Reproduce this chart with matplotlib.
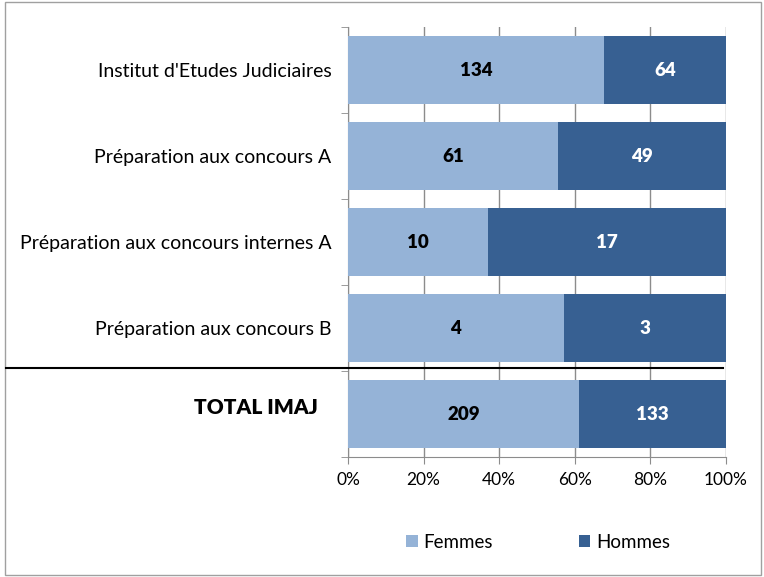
import numpy as np
import matplotlib.pyplot as plt
from matplotlib.lines import Line2D

plt.rcParams['font.family'] = ['Lato', 'DejaVu Sans']

categories = ["Institut d'Etudes Judiciaires", "Préparation aux concours A",
              "Préparation aux concours internes A", "Préparation aux concours B",
              "TOTAL IMAJ"]
femmes = np.array([134, 61, 10, 4, 209])
hommes = np.array([64, 49, 17, 3, 133])
xticks = [0, 20, 40, 60, 80, 100]

c_f = '#95B3D7'
c_h = '#376092'

total = femmes + hommes
pf = femmes / total * 100
ph = hommes / total * 100

fig = plt.figure(figsize=(7.64, 5.77), dpi=100)
ax = fig.add_axes([348/764, 1 - 457/577, (726-348)/764, (457-27)/577])

y = np.arange(len(categories))
ax.barh(y, pf, height=0.78, color=c_f, label='Femmes', zorder=3)
ax.barh(y, ph, left=pf, height=0.78, color=c_h, label='Hommes', zorder=3)

for i in range(len(categories)):
    ax.text(pf[i] / 2, y[i], str(femmes[i]), ha='center', va='center',
            fontsize=13.5, fontweight='heavy', color='black', zorder=4)
    ax.text(pf[i] + ph[i] / 2, y[i], str(hommes[i]), ha='center', va='center',
            fontsize=13.5, fontweight='heavy', color='white', zorder=4)

ax.set_xlim(0, 100)
ax.set_ylim(len(categories) - 0.5, -0.5)
ax.set_xticks(xticks)
ax.set_xticklabels([f'{v}%' for v in xticks], fontsize=12.5)
ax.xaxis.grid(True, color='#8c8c8c', linewidth=1, zorder=0)

# category labels
ax.set_yticks(y)
ax.set_yticklabels(categories[:-1] + [''], fontsize=14)
ax.tick_params(axis='y', length=0, pad=12)
ax.set_yticks(np.arange(len(categories) + 1) - 0.5, minor=True)
ax.tick_params(axis='y', which='minor', length=5, color='#8c8c8c')
ax.tick_params(axis='x', length=5, color='#8c8c8c', pad=6)
ax.text(-8, y[-1] - 0.08, categories[-1], ha='right', va='center',
        fontsize=15, fontweight='heavy', transform=ax.transData, clip_on=False)

for s in ['top', 'right']:
    ax.spines[s].set_visible(False)
ax.spines['left'].set_color('#8c8c8c')
ax.spines['bottom'].set_color('#8c8c8c')

# separator above total
fig.add_artist(Line2D([6/764, 723/764], [1 - 368/577, 1 - 368/577],
                      color='black', linewidth=1.5))

# figure border
fig.add_artist(plt.Rectangle((0.006, 0.003), 0.99, 0.994, fill=False,
                             edgecolor='#a0a0a0', linewidth=1,
                             transform=fig.transFigure))

fig.legend(loc='center', bbox_to_anchor=(538/764, 1 - 542/577), ncol=2,
           frameon=False, fontsize=13.5, handlelength=0.6, handleheight=0.6,
           columnspacing=4.6, handletextpad=0.3)

fig.savefig('out.png', dpi=100)
